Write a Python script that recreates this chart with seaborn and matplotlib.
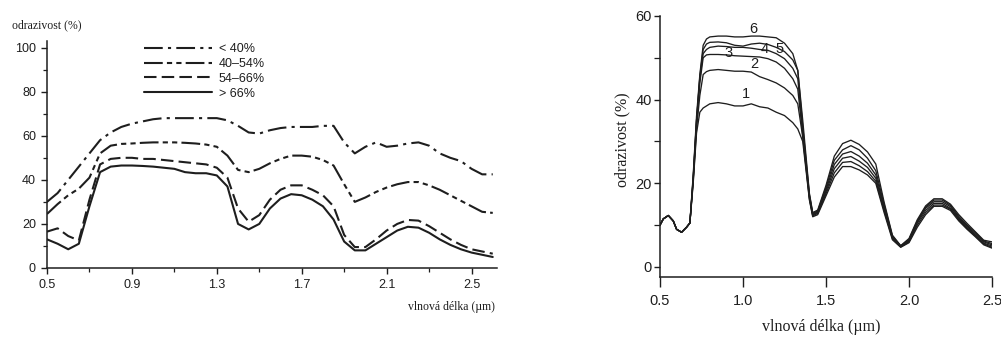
import matplotlib
matplotlib.use("Agg")
import matplotlib.pyplot as plt
from matplotlib.ticker import FixedLocator
import seaborn as sns

# ---------------- data: left panel ----------------
wl_left = [0.50, 0.55, 0.60, 0.65, 0.70, 0.75, 0.80, 0.85, 0.90, 0.95,
           1.00, 1.05, 1.10, 1.15, 1.20, 1.25, 1.30, 1.35, 1.40, 1.45,
           1.50, 1.55, 1.60, 1.65, 1.70, 1.75, 1.80, 1.85, 1.90, 1.95,
           2.00, 2.05, 2.10, 2.15, 2.20, 2.25, 2.30, 2.35, 2.40, 2.45,
           2.50, 2.55, 2.60]
refl_lt40 = [30, 34, 40, 46, 52, 58, 61.5, 64, 65.5, 66.5,
             67.5, 68, 68, 68, 68, 68, 68, 67, 64.5, 61.5,
             61, 62.5, 63.5, 64, 64, 64, 64.5, 64.5, 57, 52,
             55, 57, 55, 55.5, 56.5, 57, 55.5, 52, 50, 48.5,
             45, 42.5, 42.5]
refl_40_54 = [24.5, 29, 33, 36, 41, 52, 55.5, 56.3, 56.5, 56.8,
              57, 57, 57, 56.8, 56.5, 56, 55, 51, 44.5, 43.5,
              45, 47.5, 49.5, 51, 51, 50.5, 49, 46.5, 38, 30,
              32, 34.5, 36.5, 38, 39, 39, 37.5, 35.5, 33, 30.5,
              28, 25.5, 25]
refl_54_66 = [16.5, 18, 14.5, 12.5, 31, 47, 49.5, 50, 50, 49.5,
              49.5, 49, 48.5, 48, 47.5, 47, 45.5, 41, 27, 21,
              24, 31, 35.5, 37.5, 37.5, 35.5, 33, 28, 15, 9.5,
              9.5, 13, 17, 20, 21.8, 21.5, 19, 16, 13, 10.5,
              8.5, 7.5, 6.5]
refl_gt66 = [13, 11, 8.5, 11, 28, 43.5, 46, 46.5, 46.5, 46.3,
             46, 45.5, 45, 43.5, 43, 43, 42, 37, 20, 17.5,
             20, 27, 31.5, 33.5, 33, 31, 28, 22, 12, 8,
             8, 11, 14, 17, 18.7, 18.3, 16, 13, 10.5, 8.5,
             7, 6, 5]
legend_labels = ["< 40%", "40–54%", "54–66%", "> 66%"]
left_xticks = [0.5, 0.9, 1.3, 1.7, 2.1, 2.5]
left_yticks = [0, 20, 40, 60, 80, 100]

# ---------------- data: right panel ----------------
wl_right = [0.50, 0.52, 0.55, 0.58, 0.60, 0.63, 0.66, 0.68,
            0.70, 0.72, 0.74, 0.76, 0.78, 0.80,
            0.85, 0.90, 0.95, 1.00, 1.05, 1.10, 1.15, 1.20, 1.25, 1.30,
            1.33, 1.36, 1.40, 1.42, 1.45, 1.50,
            1.55, 1.60, 1.65, 1.70, 1.75, 1.80, 1.85, 1.90, 1.95, 2.00,
            2.05, 2.10, 2.15, 2.20, 2.25, 2.30, 2.35, 2.40, 2.45, 2.50]
curve1 = [10, 11.5, 12.3, 11, 9, 8.3, 9.5, 10.5,
          20, 32, 37, 38, 38.5, 39,
          39.3, 39, 38.5, 38.5, 39, 38.3, 38, 37, 36.2, 34.5,
          33, 30, 16, 12, 12.5, 17,
          21.5, 24, 24, 23.2, 22, 20, 13, 6.5, 4.7, 5.8,
          9.5, 12.5, 14.5, 14.5, 13.5, 11, 9, 7.2, 5.3, 4.5]
curve2 = [10, 11.5, 12.3, 11, 9, 8.3, 9.5, 10.5,
          20.5, 33, 41, 46, 46.7, 47,
          47.2, 47, 46.8, 46.8, 46.6, 45.5, 44.8, 44, 42.8, 41,
          39, 31, 16.3, 12.2, 12.8, 17.5,
          22.5, 25, 25.2, 24.2, 22.8, 20.5, 13.5, 6.8, 4.8, 6,
          10, 13, 14.8, 14.8, 13.8, 11.3, 9.2, 7.4, 5.5, 4.7]
curve3 = [10, 11.5, 12.3, 11, 9, 8.3, 9.5, 10.5,
          21, 34, 44, 50, 50.7, 50.8,
          50.8, 50.7, 50.5, 50.4, 50.3, 50.2, 49.8, 49, 47.5, 45,
          42.5, 31.5, 16.6, 12.4, 13, 18,
          23.5, 26, 26.4, 25.3, 23.8, 21.2, 14, 7, 4.9, 6.2,
          10.5, 13.5, 15.2, 15.2, 14, 11.5, 9.4, 7.6, 5.7, 5]
curve4 = [10, 11.5, 12.3, 11, 9, 8.3, 9.5, 10.5,
          21, 35, 45, 51, 52, 52.5,
          52.8, 52.7, 52.5, 52.5, 52.3, 52, 51.8, 51, 49.8, 47.5,
          45, 32.5, 17, 12.6, 13.2, 18.5,
          24.5, 27, 27.6, 26.5, 24.8, 22, 14.5, 7.2, 5, 6.4,
          10.8, 14, 15.6, 15.6, 14.4, 11.8, 9.7, 7.9, 6, 5.3]
curve5 = [10, 11.5, 12.3, 11, 9, 8.3, 9.5, 10.5,
          21.5, 35, 45.5, 52, 53.3, 53.7,
          53.8, 53.6, 53, 52.8, 53.3, 53.5, 53.2, 52.5, 51.5, 49.5,
          47, 33.5, 17.3, 12.8, 13.4, 19,
          25.5, 28, 29, 28, 26, 23, 15, 7.4, 5, 6.6,
          11, 14.3, 16, 16, 14.7, 12.1, 10, 8.2, 6.2, 5.6]
curve6 = [10, 11.5, 12.3, 11, 9, 8.3, 9.5, 10.5,
          22, 36, 46, 53, 54.5, 55,
          55.2, 55.2, 55, 55, 55.2, 55.2, 55, 54.8, 53.5, 51,
          47, 35, 17.6, 13, 13.6, 19.5,
          26.5, 29.5, 30.3, 29.3, 27.5, 24.6, 15.5, 7.6, 5.1, 6.8,
          11.3, 14.6, 16.3, 16.3, 15, 12.5, 10.4, 8.4, 6.4, 6]
curve_labels = ["1", "2", "3", "4", "5", "6"]
right_xticks = [0.5, 1.0, 1.5, 2.0, 2.5]
right_yticks = [0, 20, 40, 60]

# ---------------- styling ----------------
sns.set_theme(style="ticks")
plt.rcParams["font.family"] = ["Liberation Sans", "DejaVu Sans"]
INK = "#1e1e1e"
plt.rcParams.update({
    "axes.edgecolor": INK, "xtick.color": INK, "ytick.color": INK,
    "text.color": INK, "axes.labelcolor": INK,
    "figure.facecolor": "white", "axes.facecolor": "white",
    "lines.solid_joinstyle": "round", "lines.dash_joinstyle": "round",
})
SERIF = ["Liberation Serif", "DejaVu Serif"]

fig = plt.figure(figsize=(10.01, 3.40), dpi=100)

# ---------------- left panel ----------------
ax1 = fig.add_axes([47 / 1001, 72 / 340, 450 / 1001, 227 / 340])
left_series = [refl_lt40, refl_40_54, refl_54_66, refl_gt66]
left_styles = [(0, (9, 2.5, 1.5, 2.5)),
               (0, (9, 2, 2.5, 2, 2.5, 2)),
               (0, (6, 2.5)),
               "-"]
for vals, lab, ls in zip(left_series, legend_labels, left_styles):
    sns.lineplot(x=wl_left, y=vals, ax=ax1, color=INK, linewidth=1.5,
                 linestyle=ls, label=lab)
ax1.set_xlim(0.5, 2.62)
ax1.set_ylim(0, 103)
ax1.xaxis.set_major_locator(FixedLocator(left_xticks))
ax1.xaxis.set_minor_locator(FixedLocator([0.7, 1.1, 1.5, 1.9, 2.3]))
ax1.yaxis.set_major_locator(FixedLocator(left_yticks))
ax1.yaxis.set_minor_locator(FixedLocator([10, 30, 50, 70, 90]))
ax1.set_xticklabels([f"{t:.1f}" for t in left_xticks])
ax1.tick_params(axis="both", which="major", labelsize=9, length=4,
                width=1.0, direction="out", pad=4)
ax1.tick_params(axis="both", which="minor", length=3, width=0.9,
                direction="out")
for s in ("top", "right"):
    ax1.spines[s].set_visible(False)
for s in ("left", "bottom"):
    ax1.spines[s].set_linewidth(1.1)
ax1.set_xlabel("vlnová délka (µm)", fontsize=8.5, family=SERIF,
               ha="right")
ax1.xaxis.set_label_coords(0.996, -0.145)
ax1.set_ylabel("odrazivost (%)", fontsize=8.5, family=SERIF,
               rotation=0, ha="left", va="center")
ax1.yaxis.set_label_coords(-0.077, 1.07)
leg = ax1.legend(loc="upper left", bbox_to_anchor=(0.215, 0.99),
                 frameon=False, fontsize=9, handlelength=5.45,
                 handletextpad=0.55, labelspacing=0.22, borderpad=0,
                 borderaxespad=0)
for t in leg.get_texts():
    t.set_color(INK)

# ---------------- right panel ----------------
ax2 = fig.add_axes([660 / 1001, 63 / 340, 332 / 1001, 261 / 340])
right_series = [curve1, curve2, curve3, curve4, curve5, curve6]
for vals in right_series:
    sns.lineplot(x=wl_right, y=vals, ax=ax2, color=INK, linewidth=0.95)
ax2.set_xlim(0.5, 2.5)
ax2.set_ylim(-2.4, 60)
ax2.xaxis.set_major_locator(FixedLocator(right_xticks))
ax2.yaxis.set_major_locator(FixedLocator(right_yticks))
ax2.yaxis.set_minor_locator(FixedLocator([10, 30, 50]))
ax2.set_xticklabels([f"{t:.1f}" for t in right_xticks])
ax2.tick_params(axis="x", which="major", labelsize=10.5, length=7,
                width=1.0, direction="out", pad=5)
ax2.tick_params(axis="y", which="major", labelsize=10.5, length=4,
                width=1.0, direction="out", pad=2)
ax2.tick_params(axis="y", which="minor", length=4, width=0.9,
                direction="out")
for s in ("top", "right"):
    ax2.spines[s].set_visible(False)
for s in ("left", "bottom"):
    ax2.spines[s].set_linewidth(1.1)
ax2.set_xlabel("vlnová délka (µm)", fontsize=11.5, family=SERIF)
ax2.xaxis.set_label_coords(0.485, -0.16)
ax2.set_ylabel("odrazivost (%)", fontsize=11.5, family=SERIF, va="center")
ax2.yaxis.set_label_coords(-0.112, 0.525)

label_pos = [(1.015, 41.4), (1.07, 48.5), (0.91, 51.2),
             (1.13, 52.0), (1.22, 52.0), (1.065, 57.0)]
for lab, (lx, ly) in zip(curve_labels, label_pos):
    ax2.text(lx, ly, lab, fontsize=10.5, ha="center", va="center",
             color=INK)

fig.savefig("out.png", dpi=100, facecolor="white")
